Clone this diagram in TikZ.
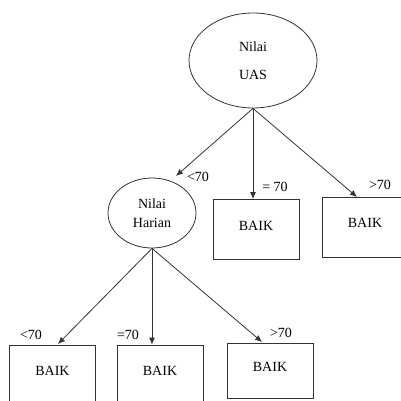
\documentclass[tikz,border=0pt]{standalone}
\usepackage{fontspec}
\setmainfont{Liberation Serif}
\usetikzlibrary{arrows.meta,shapes.geometric}
\begin{document}
\begin{tikzpicture}[x=1pt,y=-1pt,line width=0.8pt,draw=black!80,
	font=\fontsize{14}{16}\selectfont,
	test/.style={ellipse,draw,align=center,inner sep=0pt},
	leaf/.style={rectangle,draw,minimum width=86pt,minimum height=60pt,text depth=8pt,inner sep=0pt},
	edge/.style={-{Latex[length=7pt,width=6pt]}}]
	\clip (0,0) rectangle (401,401);
	\node (UAS) at (253, 60.5)	[test, minimum width=128pt, minimum height=95pt]	{Nilai\\[12pt]UAS};
	\node (Harian) at (152, 213)	[test, minimum width=88pt, minimum height=70pt]	{Nilai\\[3pt]Harian};
	\node (B2) at (256, 229.5)	[leaf]	{BAIK};
	\node (B3) at (365, 227)	[leaf]	{BAIK};
	\node (C1) at (52.5, 375)	[leaf]	{BAIK};
	\node (C2) at (160, 375)	[leaf]	{BAIK};
	\node (C3) at (270, 370.5)	[leaf, minimum height=55pt]	{BAIK};
	\coordinate (a1) at (176, 176);
	\coordinate (a3) at (357, 197);
	\coordinate (b1) at (58, 344);
	\coordinate (b3) at (262, 342);
	\draw[edge] (UAS.south) -- (a1);
	\draw[edge] (UAS.south) -- (UAS.south |- B2.north);
	\draw[edge] (UAS.south) -- (a3);
	\draw[edge] (Harian.south) -- (b1);
	\draw[edge] (Harian.south) -- (Harian.south |- C2.north);
	\draw[edge] (Harian.south) -- (b3);
	\node (L1) at (198, 177)	{<70};
	\node (L2) at (275, 187)	{= 70};
	\node (L3) at (380, 185)	{>70};
	\node (M1) at (31, 335)	{<70};
	\node (M2) at (128, 335)	{=70};
	\node (M3) at (281, 333)	{>70};
\end{tikzpicture}
\end{document}
